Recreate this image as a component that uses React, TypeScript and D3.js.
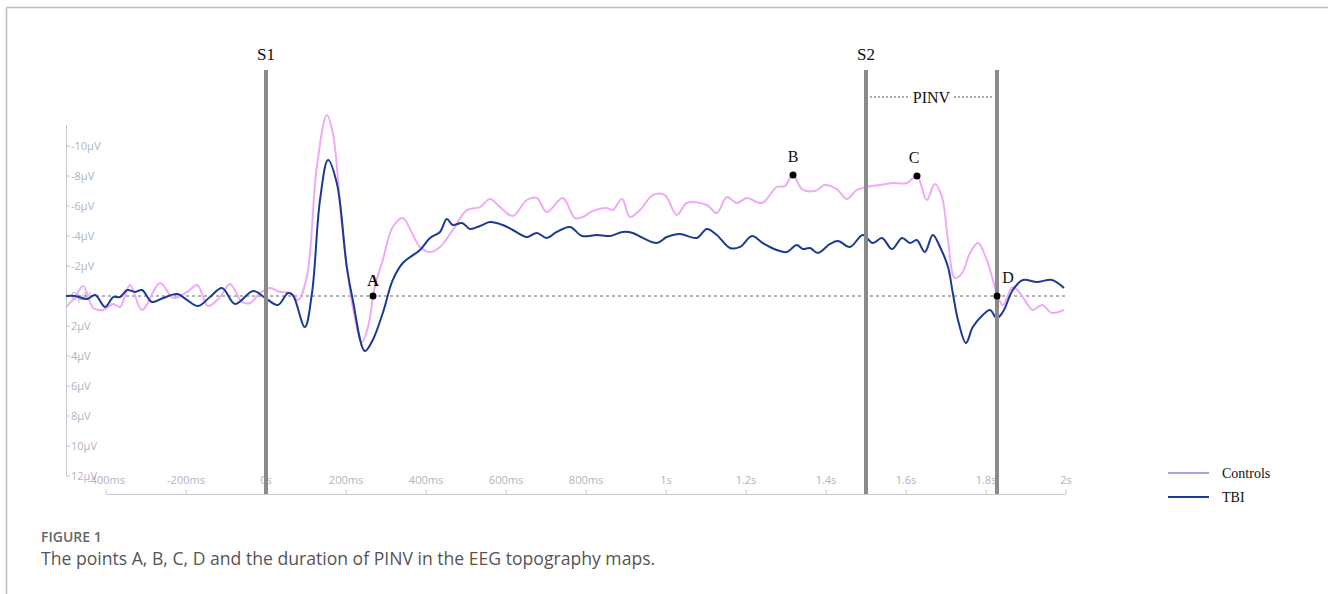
import React from "react";
import * as d3 from "d3";

// ---------- data ----------
const timesControls = [-500,-477,-457,-432,-407,-382,-365,-340,-310,-265,-232,-197,-172,-145,-115,-90,-60,-40,-15,10,35,60,80,102,127,152,167,192,217,240,255,272,292,317,342,365,385,410,435,467,502,535,560,585,617,652,677,702,742,772,792,817,852,867,890,910,935,967,997,1027,1052,1102,1127,1152,1177,1202,1240,1277,1297,1317,1340,1372,1397,1427,1452,1477,1502,1535,1567,1602,1627,1652,1672,1690,1705,1722,1740,1760,1780,1802,1827,1842,1867,1892,1917,1940,1965,1995];
const controls = [0.73,0.07,-0.67,0.8,0.93,0.53,0.73,-0.73,0.93,-0.87,0.13,-0.27,-0.73,0.67,0.07,-0.8,0.4,0.47,-0.2,-0.53,-0.27,-0.2,0.27,-1.27,-8.6,-12.07,-10.87,-4.2,0.73,3.07,2.07,-0.6,-2.4,-4.6,-5.2,-4.2,-3.27,-2.93,-3.27,-4.4,-5.73,-5.93,-6.47,-5.93,-5.33,-6.4,-6.53,-5.6,-6.53,-5.2,-5.27,-5.67,-5.87,-5.73,-6.47,-5.27,-5.73,-6.73,-6.73,-5.4,-6.2,-6.07,-5.53,-6.6,-6.2,-6.53,-6.2,-7.27,-7.33,-8.07,-7.13,-7.0,-7.4,-7.13,-6.47,-7.07,-7.27,-7.4,-7.53,-7.53,-8.0,-6.4,-7.47,-6.6,-3.73,-1.2,-1.53,-2.87,-3.53,-2.4,-0.2,0.6,-0.6,0.07,0.93,0.6,1.13,0.93];

const timesTBI = [-500,-477,-447,-427,-402,-382,-365,-347,-327,-310,-285,-257,-222,-197,-170,-140,-110,-77,-32,-2,30,55,67,97,115,135,155,177,202,217,247,267,292,317,342,385,410,435,452,467,490,510,535,560,592,617,652,677,702,727,760,790,827,860,892,917,942,977,1002,1035,1077,1102,1127,1160,1185,1215,1242,1277,1302,1327,1342,1360,1380,1410,1430,1460,1492,1517,1540,1565,1590,1610,1627,1647,1667,1685,1705,1717,1730,1750,1767,1792,1810,1827,1842,1867,1892,1927,1965,1995];
const tbi = [0,0,0.2,-0.07,0.73,0.07,0.07,-0.4,-0.27,-0.4,0.4,0.13,-0.13,0.27,0.67,0.07,-0.53,0.53,-0.33,0.13,0.6,-0.2,-0.07,2.07,-0.2,-6.4,-9.07,-7.53,-1.93,0.27,3.67,2.93,1.13,-1.07,-2.2,-3.07,-3.87,-4.27,-5.13,-4.73,-4.87,-4.47,-4.67,-4.93,-4.73,-4.4,-3.93,-4.2,-3.87,-4.27,-4.6,-4.0,-4.07,-4.0,-4.27,-4.2,-3.87,-3.53,-3.93,-4.13,-3.87,-4.47,-4.07,-3.2,-3.27,-4.0,-3.53,-3.07,-2.93,-3.4,-3.13,-3.2,-2.87,-3.47,-3.67,-3.27,-4.07,-3.53,-3.87,-3.13,-3.87,-3.53,-3.73,-2.93,-4.07,-3.27,-1.93,-0.2,1.6,3.13,2.07,1.27,0.93,1.47,1.07,-0.4,-1.07,-0.93,-1.07,-0.53];

const yTicks = [-10, -8, -6, -4, -2, 0, 2, 4, 6, 8, 10, 12];
const xTicks = [-400, -200, 0, 200, 400, 600, 800, 1000, 1200, 1400, 1600, 1800, 2000];
const xTickLabels = ["-400ms", "-200ms", "0s", "200ms", "400ms", "600ms", "800ms", "1s", "1.2s", "1.4s", "1.6s", "1.8s", "2s"];

const eventTimes = [0, 1500, 1827.5];
const eventNames = ["S1", "S2", ""];

const pointNames = ["A", "B", "C", "D"];
const pointTimes = [267.5, 1317.5, 1627.5, 1827.5];
const pointValues = [0, -8.07, -8.0, 0];

const seriesNames = ["Controls", "TBI"];
const caption = "The points A, B, C, D and the duration of PINV in the EEG topography maps.";

// ---------- chart ----------
const W = 1328, H = 594;
const x = d3.scaleLinear().domain([-500, 2000]).range([66, 1066]);
const y = d3.scaleLinear().domain([-12, 12]).range([116, 476]);

const PINK = "#eeaaf6";
const BLUE = "#1c3a92";
const AXIS = "#c8c8cc";
const TICKTXT = "#b2b2c2";

function linePath(ts: number[], vs: number[]) {
  const gen = d3
    .line<number>()
    .x((_, i) => x(ts[i]))
    .y((v) => y(v))
    .curve(d3.curveCatmullRom.alpha(0.5));
  return gen(vs) || "";
}

export default function App() {
  const sans = "'Open Sans', 'Noto Sans', sans-serif";
  const serif = "'Liberation Serif', 'Times New Roman', serif";
  const labelOff: Record<string, [number, number, boolean]> = {
    A: [0, -10, true],
    B: [0, -13, false],
    C: [-3, -13, false],
    D: [11, -13, false],
  };
  const x0 = x(1500), x1 = x(1827.5);
  return (
    <svg
      width={W}
      height={H}
      style={{ position: "absolute", left: 0, top: 0, background: "#fff" }}
    >
      {/* frame */}
      <line x1={6.5} y1={7.5} x2={W} y2={7.5} stroke="#bdbdbd" strokeWidth={1.5} />
      <line x1={6.5} y1={7.5} x2={6.5} y2={H} stroke="#bdbdbd" strokeWidth={1.5} />

      {/* y axis */}
      <line x1={66.5} y1={125} x2={66.5} y2={y(12)} stroke={AXIS} strokeWidth={1} />
      {yTicks.map((t) => (
        <g key={t}>
          <line x1={66} y1={y(t)} x2={70} y2={y(t)} stroke={AXIS} />
          <text
            x={71}
            y={y(t)}
            dy="0.35em"
            fontFamily={sans}
            fontSize={11}
            fill={TICKTXT}
          >
            {`${t}µV`}
          </text>
        </g>
      ))}

      {/* x axis */}
      <line x1={x(-400)} y1={494.5} x2={x(2000)} y2={494.5} stroke={AXIS} strokeWidth={1} />
      {xTicks.map((t, i) => (
        <g key={t}>
          <line x1={x(t)} y1={489} x2={x(t)} y2={494} stroke={AXIS} />
          <text
            x={x(t)}
            y={480}
            dy="0.35em"
            textAnchor="middle"
            fontFamily={sans}
            fontSize={11}
            fill={TICKTXT}
          >
            {xTickLabels[i]}
          </text>
        </g>
      ))}

      {/* baseline */}
      <line
        x1={x(-500)}
        y1={y(0)}
        x2={x(2000)}
        y2={y(0)}
        stroke="#666"
        strokeWidth={1}
        strokeDasharray="3,3"
      />

      {/* curves */}
      <path d={linePath(timesControls, controls)} fill="none" stroke={PINK} strokeWidth={2} />
      <path d={linePath(timesTBI, tbi)} fill="none" stroke={BLUE} strokeWidth={2} />

      {/* event lines */}
      {eventTimes.map((t, i) => (
        <g key={i}>
          <line x1={x(t)} y1={70} x2={x(t)} y2={494} stroke="#8a8a8a" strokeWidth={4} />
          {eventNames[i] && (
            <text
              x={x(t)}
              y={54}
              dy="0.35em"
              textAnchor="middle"
              fontFamily={serif}
              fontSize={17}
              fill="#111"
            >
              {eventNames[i]}
            </text>
          )}
        </g>
      ))}

      {/* PINV */}
      <line x1={x0 + 4} y1={97} x2={x1 - 3} y2={97} stroke="#555" strokeWidth={1} strokeDasharray="2,2" />
      <rect x={(x0 + x1) / 2 - 21} y={88} width={42} height={18} fill="#fff" />
      <text
        x={(x0 + x1) / 2}
        y={97}
        dy="0.35em"
        textAnchor="middle"
        fontFamily={serif}
        fontSize={16}
        fill="#111"
      >
        PINV
      </text>

      {/* points */}
      {pointNames.map((n, i) => {
        const px = x(pointTimes[i]);
        const py = y(pointValues[i]);
        const [dx, dy, bold] = labelOff[n];
        return (
          <g key={n}>
            <circle cx={px} cy={py} r={3.5} fill="#000" />
            <text
              x={px + dx}
              y={py + dy}
              textAnchor="middle"
              fontFamily={serif}
              fontSize={16}
              fontWeight={bold ? "bold" : "normal"}
              fill="#111"
            >
              {n}
            </text>
          </g>
        );
      })}

      {/* legend */}
      {seriesNames.map((n, i) => (
        <g key={n}>
          <line
            x1={1168}
            y1={473 + i * 24}
            x2={1209}
            y2={473 + i * 24}
            stroke={i === 0 ? "#b79de3" : BLUE}
            strokeWidth={2}
          />
          <text
            x={1222}
            y={473 + i * 24}
            dy="0.35em"
            fontFamily={serif}
            fontSize={14}
            fill="#111"
          >
            {n}
          </text>
        </g>
      ))}

      {/* caption */}
      <text x={41} y={537} dy="0.35em" fontFamily={sans} fontSize={14} fontWeight={600} fill="#666">
        FIGURE 1
      </text>
      <text x={41} y={559} dy="0.35em" fontFamily={sans} fontSize={17.6} fill="#555">
        {caption}
      </text>
    </svg>
  );
}
